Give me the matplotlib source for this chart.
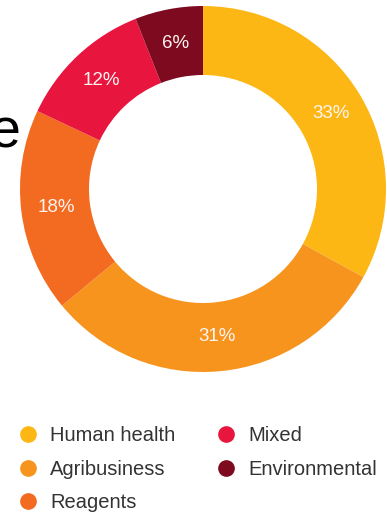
import matplotlib.pyplot as plt
from matplotlib.lines import Line2D

# donut data, clockwise from the top
sectors = ['Human health', 'Agribusiness', 'Reagents', 'Mixed', 'Environmental']
shares = [33, 31, 18, 12, 6]
colours = ['#FDB714', '#F7941E', '#F26B21', '#E8163F', '#7D0A1F']

plt.rcParams['font.family'] = ['Liberation Sans', 'DejaVu Sans']

W, H = 387, 512
fig = plt.figure(figsize=(W / 100, H / 100), dpi=100)

# pie axes placed in pixels: centre (203, 189), outer radius 183
cx, cy, r = 203, 189, 183
ax = fig.add_axes([(cx - r) / W, (H - cy - r) / H, 2 * r / W, 2 * r / H])
wedges, _, pcts = ax.pie(shares, colors=colours, startangle=90, counterclock=False,
                         radius=1.0, wedgeprops=dict(width=0.377, linewidth=0),
                         autopct=lambda p: f'{p:.0f}%', pctdistance=0.81,
                         textprops=dict(color='#FFF4F0', fontsize=13.5))
ax.set_xlim(-1, 1)
ax.set_ylim(-1, 1)
ax.set_aspect('equal')
ax.axis('off')

# cut-off letter from the page the chart was taken from
fig.text(-10 / W, (H - 148) / H, 'e', fontsize=40, color='black',
         ha='left', va='baseline')

handles = [Line2D([], [], marker='o', linestyle='none', markersize=11,
                  markerfacecolor=c, markeredgecolor=c) for c in colours]
fig.legend(handles, sectors, ncol=2, loc='upper left',
           bbox_to_anchor=(18 / W, (H - 426) / H), frameon=False,
           fontsize=14.5, labelcolor='#333333', handlelength=1.0,
           handletextpad=0.6, columnspacing=2.0, labelspacing=0.73,
           borderpad=0, borderaxespad=0)

fig.savefig('out.png', dpi=100)
